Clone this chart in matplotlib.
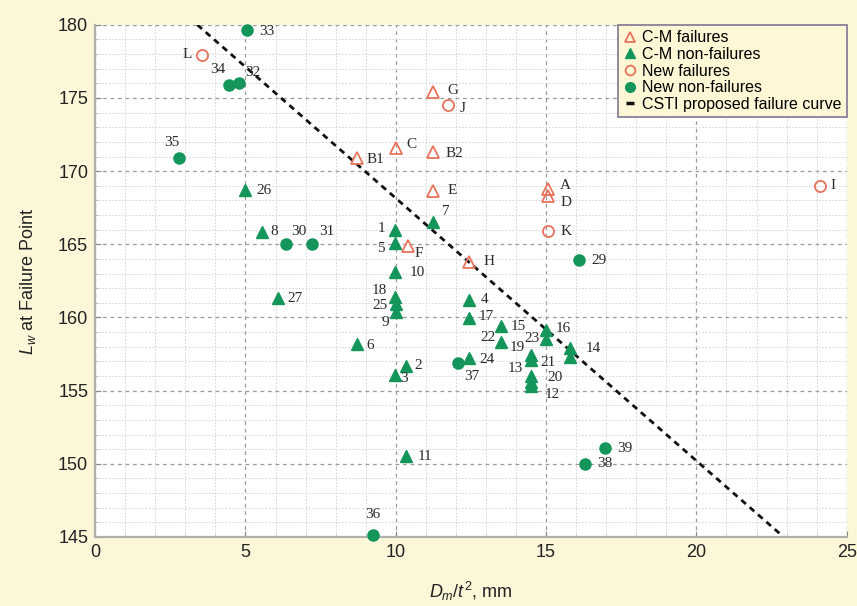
import matplotlib
matplotlib.use("Agg")
import matplotlib.pyplot as plt
from matplotlib import font_manager
from matplotlib.lines import Line2D
from matplotlib.ticker import MultipleLocator

# ---- data -------------------------------------------------------------
cm_fail_labels = ["B1", "C", "B2", "G", "E", "A", "D", "F", "H"]
cm_fail_x = [8.7, 10.0, 11.25, 11.25, 11.25, 15.05, 15.05, 10.4, 12.45]
cm_fail_y = [170.9, 171.6, 171.3, 175.4, 168.65, 168.8, 168.3, 164.85, 163.8]

cm_ok_labels = ["26", "8", "27", "6", "1", "5", "10", "18", "25", "9", "7",
                "2", "3", "11", "4", "17", "15", "22", "24", "19", "13",
                "23", "16", "14", "", "21", "20", "12"]
cm_ok_x = [4.98, 5.55, 6.08, 8.7, 9.97, 9.97, 9.97, 9.97, 10.0, 10.02, 11.25,
           10.35, 9.97, 10.35, 12.45, 12.45, 13.5, 13.5, 12.45, 14.5, 14.5,
           15.0, 15.0, 15.8, 15.8, 14.5, 14.5, 14.5]
cm_ok_y = [168.7, 165.85, 161.3, 158.2, 166.0, 165.1, 163.1, 161.4, 160.9,
           160.4, 166.55, 156.65, 156.1, 150.5, 161.2, 159.95, 159.4, 158.35,
           157.2, 157.4, 157.1, 158.5, 159.15, 157.9, 157.3, 156.0, 155.6,
           155.3]

new_fail_labels = ["L", "J", "K", "I"]
new_fail_x = [3.55, 11.75, 15.05, 24.1]
new_fail_y = [177.95, 174.5, 165.9, 169.0]

new_ok_labels = ["33", "34", "32", "35", "30", "31", "36", "37", "29", "38", "39"]
new_ok_x = [5.05, 4.45, 4.78, 2.78, 6.35, 7.2, 9.25, 12.07, 16.1, 16.28, 16.95]
new_ok_y = [179.65, 175.9, 176.0, 170.9, 165.0, 165.0, 145.1, 156.9, 163.9,
            150.0, 151.05]

# CSTI proposed failure curve (straight line)
curve_x = [3.4, 22.9]
curve_y = [180.0, 145.0]

x_ticks = [0, 5, 10, 15, 20, 25]
y_ticks = [145, 150, 155, 160, 165, 170, 175, 180]

# ---- label placement (offset in points, horizontal alignment) ----------
label_pos = {
    "B1": (7, -1, "left"), "C": (8, 2, "left"), "B2": (9, -1, "left"),
    "G": (10, 1, "left"), "E": (10, 0, "left"), "A": (9, 2, "left"),
    "D": (9, -5, "left"), "F": (5, -5, "left"), "H": (10, 0, "left"),
    "26": (8, 0, "left"), "8": (6, 0, "left"), "27": (7, 0, "left"),
    "6": (7, -1, "left"), "1": (-7, 1, "right"), "5": (-7, -4, "right"),
    "10": (11, 0, "left"), "18": (-6, 5, "right"), "25": (-6, -1, "right"),
    "9": (-5, -8, "right"), "7": (6, 7, "left"), "2": (6, 1, "left"),
    "3": (4, -3, "left"), "11": (8, 0, "left"), "4": (8, 0, "left"),
    "17": (7, 1, "left"), "15": (7, 0, "left"), "22": (-4, 3, "right"),
    "24": (7, -1, "left"), "19": (-10, 6, "center"), "13": (-11, -6, "center"),
    "23": (-5, 1, "right"), "16": (7, 1, "left"), "14": (11, 0, "left"),
    "21": (12, 10, "center"), "20": (17, 3, "center"), "12": (15, -6, "center"),
    "L": (-7, 0, "right"), "J": (8, -2, "left"), "K": (9, 0, "left"),
    "I": (8, 0, "left"),
    "33": (9, -1, "left"), "34": (-8, 11, "center"), "32": (10, 8, "center"),
    "35": (-5, 11, "center"), "30": (9, 9, "center"), "31": (11, 9, "center"),
    "36": (0, 15, "center"), "37": (10, -10, "center"), "29": (9, 0, "left"),
    "38": (9, 0, "left"), "39": (9, 0, "left"),
}

# ---- fonts --------------------------------------------------------------
available = {f.name for f in font_manager.fontManager.ttflist}
sans = "Liberation Sans Narrow" if "Liberation Sans Narrow" in available else "Liberation Sans"
serif = "Liberation Serif" if "Liberation Serif" in available else "DejaVu Serif"
plt.rcParams["font.family"] = [sans, "DejaVu Sans"]
plt.rcParams["mathtext.fontset"] = "custom"
plt.rcParams["mathtext.rm"] = sans
plt.rcParams["mathtext.it"] = sans + ":italic"

red = "#e8725c"
green = "#14955a"
bg = "#fcf7d9"

fig = plt.figure(figsize=(8.57, 6.06), dpi=100, facecolor=bg)
ax = fig.add_axes([0.111, 0.114, 0.877, 0.845])
ax.set_facecolor("white")

ax.set_xlim(0, 25)
ax.set_ylim(145, 180)
ax.set_xticks(x_ticks)
ax.set_yticks(y_ticks)
ax.xaxis.set_minor_locator(MultipleLocator(1))
ax.yaxis.set_minor_locator(MultipleLocator(1))

ax.grid(which="major", color="#9a9a9a", linestyle=(0, (3, 3)), linewidth=0.9)
ax.grid(which="minor", color="#cfcfcf", linestyle=(0, (2, 2)), linewidth=0.6)
ax.set_axisbelow(True)

for side in ("top", "right"):
    ax.spines[side].set_visible(False)
for side in ("left", "bottom"):
    ax.spines[side].set_color("#b0b0b0")
    ax.spines[side].set_linewidth(1.6)

ax.tick_params(which="major", direction="in", length=4, color="#888888",
               labelsize=13, labelcolor="#222222", pad=5)
ax.tick_params(which="minor", direction="in", length=2, color="#bbbbbb")

# failure curve
ax.plot(curve_x, curve_y, color="#111111", linestyle=(0, (2.2, 1.8)),
        linewidth=2.0, zorder=2)

ms = 8
ax.plot(cm_ok_x, cm_ok_y, linestyle="none", marker="^", markersize=ms,
        color=green, zorder=4, clip_on=False)
ax.plot(new_ok_x, new_ok_y, linestyle="none", marker="o", markersize=ms,
        color=green, zorder=4, clip_on=False)
ax.plot(cm_fail_x, cm_fail_y, linestyle="none", marker="^", markersize=ms,
        markerfacecolor="none", markeredgecolor=red, markeredgewidth=1.3,
        zorder=5, clip_on=False)
ax.plot(new_fail_x, new_fail_y, linestyle="none", marker="o", markersize=ms,
        markerfacecolor="none", markeredgecolor=red, markeredgewidth=1.3,
        zorder=5, clip_on=False)

# point labels
for labels, xs, ys in ((cm_fail_labels, cm_fail_x, cm_fail_y),
                       (cm_ok_labels, cm_ok_x, cm_ok_y),
                       (new_fail_labels, new_fail_x, new_fail_y),
                       (new_ok_labels, new_ok_x, new_ok_y)):
    for lab, x, y in zip(labels, xs, ys):
        if not lab:
            continue
        dx, dy, ha = label_pos[lab]
        ax.annotate(lab, (x, y), xytext=(dx, dy), textcoords="offset points",
                    ha=ha, va="center", fontsize=11, family=serif,
                    color="#2b2b2b", zorder=6, annotation_clip=False)

ax.set_xlabel(r"$D_m/t^2$, mm", fontsize=13, color="#222222", labelpad=14)
ax.set_ylabel(r"$L_w$ at Failure Point", fontsize=13, color="#222222", labelpad=14)

handles = [
    Line2D([], [], linestyle="none", marker="^", markersize=7,
           markerfacecolor="none", markeredgecolor=red, markeredgewidth=1.3),
    Line2D([], [], linestyle="none", marker="^", markersize=7, color=green),
    Line2D([], [], linestyle="none", marker="o", markersize=7,
           markerfacecolor="none", markeredgecolor=red, markeredgewidth=1.3),
    Line2D([], [], linestyle="none", marker="o", markersize=7, color=green),
    Line2D([], [], linestyle="none", marker="_", markersize=6,
           markeredgewidth=2.5, color="#111111"),
]
legend_labels = ["C-M failures", "C-M non-failures", "New failures",
                 "New non-failures", "CSTI proposed failure curve"]
leg = ax.legend(handles, legend_labels, loc="upper right",
                bbox_to_anchor=(1.0, 1.0), borderaxespad=0.0, fontsize=11.5,
                handlelength=0.8, handletextpad=0.3, labelspacing=0.1,
                borderpad=0.35, frameon=True, fancybox=False)
leg.get_frame().set_facecolor("#fdf7d6")
leg.get_frame().set_edgecolor("#8c8098")
leg.get_frame().set_linewidth(1.3)
leg.get_frame().set_alpha(1.0)
leg.set_zorder(10)

fig.savefig("out.png", dpi=100, facecolor=bg)
